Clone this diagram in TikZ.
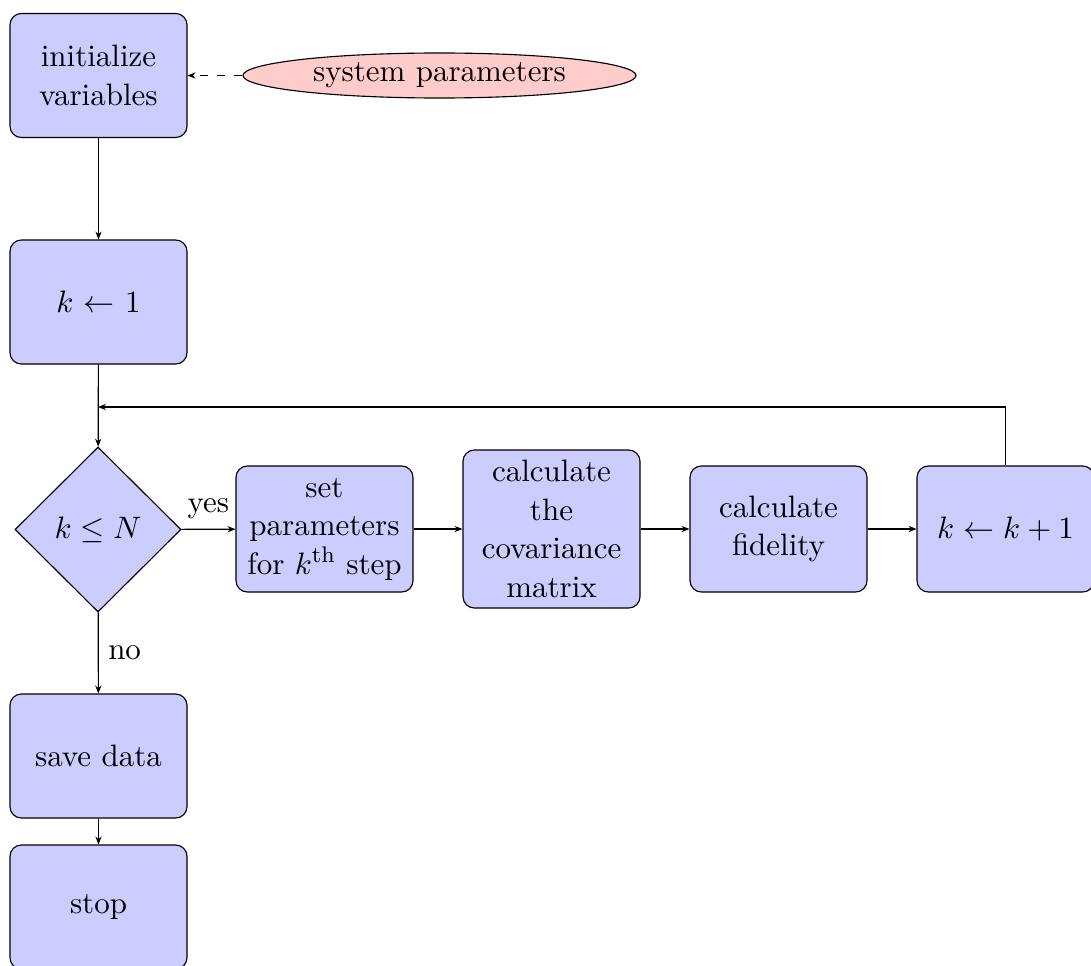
\documentclass[tikz,border=0pt]{standalone}
\usetikzlibrary{shapes.geometric,arrows.meta}
\begin{document}
\begin{tikzpicture}[x=0.3534pt,y=-0.3534pt,
  font=\fontsize{10.95}{13.6}\selectfont,
  blockbox/.style={rectangle, draw, fill=blue!20, rounded corners,
    text width=5em, align=center,
    execute at begin node={\hyphenpenalty=10000\hbadness=10000},
    minimum width={177*0.3534pt}, minimum height={124*0.3534pt}},
  widetext/.style={text width=58pt, inner xsep=2pt},
  decision/.style={diamond, draw, fill=blue!20, inner sep=0pt,
    minimum width={166*0.3534pt}, minimum height={165*0.3534pt}},
  cloudbox/.style={ellipse, draw, fill=red!20, inner sep=0pt,
    minimum width={393*0.3534pt}, minimum height={45*0.3534pt}},
  flow/.style={draw, -{Stealth[length=2.8pt,width=2.2pt]}},
  dashflow/.style={flow, dashed}]
  \useasboundingbox (0,0) rectangle (1091,965);

  % main column
  \node[blockbox] (init) at (98.5,75.5) {initialize variables};
  \node[blockbox] (kone) at (98.5,302) {$k$ $\leftarrow$ $1$};
  \node[decision] (test) at (98,529.5) {$k\leq N$};
  \node[blockbox] (save) at (98.5,756) {save data};
  \node[blockbox] (stop) at (98.5,907) {stop};

  % loop body
  \node[blockbox, widetext, minimum height={126*0.3534pt}] (setp) at (324.5,529) {set parameters for $k^{\mathrm{th}}$ step};
  \node[blockbox, minimum height={158*0.3534pt}] (cov) at (551.5,529) {calculate the covariance matrix};
  \node[blockbox, minimum height={126*0.3534pt}] (fid) at (778.5,529) {calculate fidelity};
  \node[blockbox, minimum height={126*0.3534pt}] (inc) at (1005.5,529) {$k\leftarrow k+1$};

  % input
  \node[cloudbox] (sys) at (439.5,75.5) {system parameters};

  \coordinate (ret) at (98,407);

  % connectors
  \draw[dashflow] (sys) -- (init);
  \draw[flow] (init) -- (kone);
  \draw[flow] (kone) -- (test);
  \draw[flow] (test) -- node[above, midway] {yes} (setp);
  \draw[flow] (setp) -- (cov);
  \draw[flow] (cov) -- (fid);
  \draw[flow] (fid) -- (inc);
  \draw[flow] (inc.north) |- (ret);
  \draw[flow] (test) -- node[right, midway] {no} (save);
  \draw[flow] (save) -- (stop);
\end{tikzpicture}
\end{document}
